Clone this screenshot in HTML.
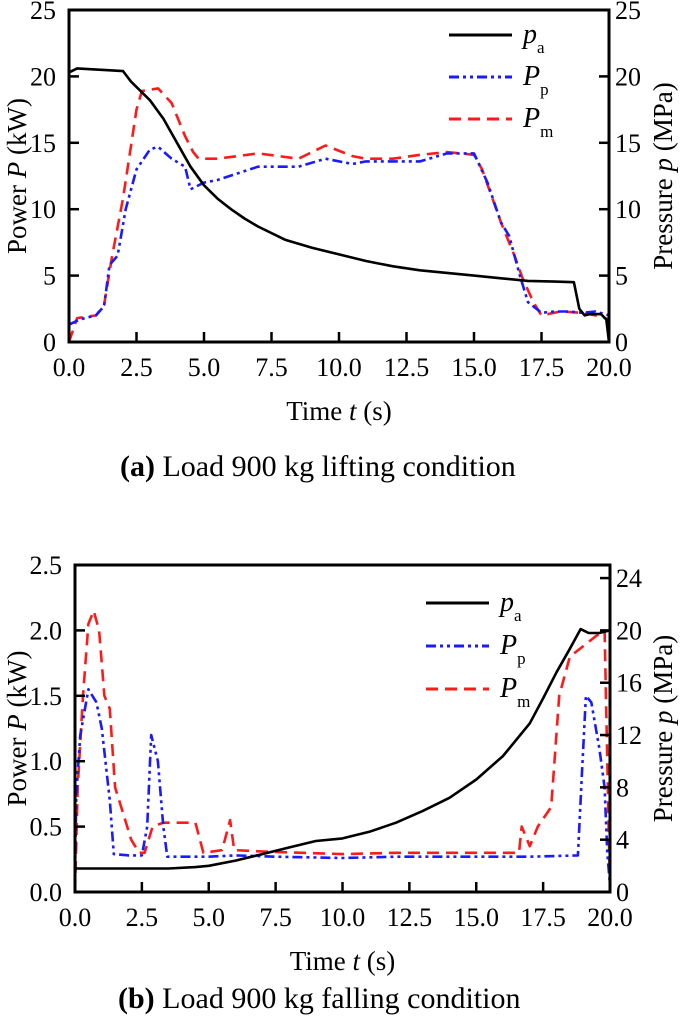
<!DOCTYPE html>
<html><head><meta charset="utf-8"><style>
html,body{margin:0;padding:0;background:#fff;}
svg{display:block;font-family:"Liberation Serif",serif;}
</style></head><body>
<svg id="fig" width="685" height="1029" viewBox="0 0 685 1029" xmlns="http://www.w3.org/2000/svg"></svg>
<script>
// ---- Chart (a) data ----
const aPaT=[0,0.3,2,2.3,2.7,3,3.5,4,4.5,5,5.5,6,6.5,7,8,9,10,11,12,13,14,15,16,17,18,18.7,18.9,19.1,19.3,19.7,19.9,20];
const aPaV=[20.3,20.6,20.4,19.6,18.8,18.2,16.8,15,13.2,11.8,10.8,10.0,9.3,8.7,7.7,7.1,6.6,6.1,5.7,5.4,5.2,5.0,4.8,4.6,4.55,4.5,2.5,2.0,2.1,2.1,1.7,0];
const aPpT=[0,0.4,1,1.3,1.5,1.8,2.1,2.5,3,3.3,3.8,4.3,4.5,5,5.5,7,8.5,9.5,10.5,11,12,13,14,15,15.5,16,16.3,16.7,17,17.5,18,18.5,19,19.5,20];
const aPpV=[1.3,1.7,2.0,2.7,5.8,6.5,10,13,14.5,14.7,13.8,13.2,11.5,12.0,12.2,13.2,13.2,13.8,13.4,13.6,13.6,13.6,14.2,14.2,12,9.0,8,5,3.0,2.2,2.3,2.3,2.2,2.3,2.0];
const aPmT=[0,0.3,1,1.3,1.6,2,2.5,2.7,3.3,3.8,4.3,4.6,4.8,5.5,7,8.5,9.5,10.5,11,12,13,14,15,15.3,16,16.5,16.8,17.2,17.5,18.2,19,19.5,20];
const aPmV=[0,1.8,2.0,2.8,6.5,10.8,17.5,18.9,19.1,18,15.5,14.3,13.8,13.8,14.2,13.8,14.8,14.0,13.8,13.8,14.1,14.3,14.1,13,9,6.5,4.8,3,2.0,2.3,2.2,2.0,1.7];
const aLeftTicks=[0,5,10,15,20,25];
const aRightTicks=[0,5,10,15,20,25];
// ---- Chart (b) data ----
const bPaT=[0,2,3.5,4.5,5,6,7,8,9,10,11,12,13,14,15,16,17,17.5,18,18.5,18.9,19.2,19.6,20];
const bPaV=[1.8,1.8,1.8,1.9,2.0,2.4,2.9,3.4,3.9,4.1,4.6,5.3,6.2,7.2,8.6,10.4,12.9,14.8,16.8,18.6,20.1,19.8,19.8,20];
const bPpT=[0,0.05,0.2,0.5,0.8,1.0,1.3,1.45,2,2.5,2.7,2.85,3.1,3.3,3.45,5,6,7.5,10,12,15,17,18.8,18.95,19.1,19.3,19.6,19.8,19.9,20];
const bPpV=[0.1,0.75,1.2,1.55,1.45,1.25,0.7,0.29,0.28,0.28,0.5,1.2,1.0,0.5,0.27,0.27,0.28,0.27,0.26,0.27,0.27,0.27,0.28,0.9,1.5,1.45,1.1,0.8,0.3,0.05];
const bPmT=[0,0.1,0.3,0.5,0.7,0.9,1.1,1.3,1.5,1.8,2.1,2.4,2.6,2.9,3.3,4.5,4.8,5.5,5.8,5.95,7,10,12,15,16.6,16.7,17.0,17.3,17.8,18.1,18.5,19,19.5,19.8,19.9,20];
const bPmV=[0,0.8,1.5,2.05,2.15,2.0,1.5,1.4,0.8,0.6,0.4,0.3,0.3,0.5,0.53,0.53,0.3,0.32,0.55,0.32,0.31,0.29,0.3,0.3,0.3,0.5,0.35,0.5,0.65,1.5,1.8,1.88,1.96,2.0,1.0,0];
const bLeftTicks=[0,0.5,1,1.5,2,2.5];
const bRightTicks=[0,4,8,12,16,20,24];
const xTicks=[0,2.5,5,7.5,10,12.5,15,17.5,20];

const NS="http://www.w3.org/2000/svg";
const svg=document.getElementById('fig');
function mk(tag,attrs,parent){const e=document.createElementNS(NS,tag);for(const k in attrs)e.setAttribute(k,attrs[k]);(parent||svg).appendChild(e);return e;}

function chart(o){
  const g=mk('g',{});
  
  
  const X=t=>o.x0+(t-0)/20*(o.x1-o.x0);
  const YL=v=>o.y1-(v/o.lmax)*(o.y1-o.y0);
  const YR=v=>o.y1-(v/o.rmax)*(o.y1-o.y0);
  function line(T,V,Y,color,dash,nm){
    const p=mk('polyline',{points:T.map((t,i)=>X(t).toFixed(1)+','+Y(V[i]).toFixed(1)).join(' '),fill:'none',stroke:color,'stroke-width':2.6,'stroke-dasharray':dash,'stroke-linejoin':'round'},g);
    
    
  }
  line(o.pmT,o.pmV,YL,'#ff1a1a','12,7',o.pre+'pm-line');
  line(o.ppT,o.ppV,YL,'#1a1aff','10,4,3,4,3,4',o.pre+'pp-line');
  line(o.paT,o.paV,YR,'#000','',o.pre+'pa-line');
  const fr=mk('rect',{x:o.x0,y:o.y0,width:o.x1-o.x0,height:o.y1-o.y0,fill:'none',stroke:'#000','stroke-width':3},g);
  
  
  xTicks.forEach(t=>{
    mk('line',{x1:X(t),x2:X(t),y1:o.y1,y2:o.y1-10,stroke:'#000','stroke-width':2.5},g);
    const tx=mk('text',{x:X(t),y:o.y1+34,'text-anchor':'middle','font-size':26},g);
    tx.textContent=t.toFixed(1);
    
    
  });
  o.lt.forEach(v=>{
    mk('line',{x1:o.x0,x2:o.x0+10,y1:YL(v),y2:YL(v),stroke:'#000','stroke-width':2.5},g);
    const tx=mk('text',{x:o.x0-13,y:YL(v)+9,'text-anchor':'end','font-size':26},g);
    tx.textContent=o.lfmt(v);
    
    
  });
  o.rt.forEach(v=>{
    mk('line',{x1:o.x1,x2:o.x1-10,y1:YR(v),y2:YR(v),stroke:'#000','stroke-width':2.5},g);
    const tx=mk('text',{x:o.x1+6,y:YR(v)+9,'text-anchor':'start','font-size':26},g);
    tx.textContent=String(v);
    
    
  });
  const cy=(o.y0+o.y1)/2;
  const lt=mk('text',{x:0,y:0,'text-anchor':'middle','font-size':27,transform:`translate(${o.ltx},${cy}) rotate(-90)`},g);
  lt.innerHTML='Power <tspan font-style="italic">P</tspan> (kW)';
  
  
  const rt=mk('text',{x:0,y:0,'text-anchor':'middle','font-size':27,transform:`translate(${o.rtx},${cy}) rotate(-90)`},g);
  rt.innerHTML='Pressure <tspan font-style="italic">p</tspan> (MPa)';
  
  
  const xt=mk('text',{x:(o.x0+o.x1)/2,y:o.y1+78,'text-anchor':'middle','font-size':27},g);
  xt.innerHTML='Time <tspan font-style="italic">t</tspan> (s)';
  
  
  const leg=[['p','a','#000',''],['P','p','#1a1aff','10,4,3,4,3,4'],['P','m','#ff1a1a','12,7']];
  leg.forEach((l,i)=>{
    const y=o.ly+i*o.lgap;
    const ll=mk('line',{x1:o.lx,x2:o.lx+63,y1:y,y2:y,stroke:l[2],'stroke-width':3,'stroke-dasharray':l[3]},g);
    
    
    const t=mk('text',{x:o.lx+74,y:y+8,'font-size':28},g);
    t.innerHTML=`<tspan font-style="italic">${l[0]}</tspan><tspan font-size="17" dy="10">${l[1]}</tspan>`;
    
    
  });
  const cap=mk('text',{x:o.capx,y:o.capy,'font-size':30},g);
  cap.innerHTML=`<tspan font-weight="bold">${o.capb}</tspan> ${o.cap}`;
  
  
}
chart({name:'chart-a-lifting',pre:'a-',x0:69,x1:609,y0:10,y1:342,lmax:25,rmax:25,
  paT:aPaT,paV:aPaV,ppT:aPpT,ppV:aPpV,pmT:aPmT,pmV:aPmV,lt:aLeftTicks,rt:aRightTicks,lfmt:v=>String(v),
  ltx:26,rtx:672,lx:449,ly:35,lgap:42,capx:120,capy:476,capb:'(a)',cap:'Load 900 kg lifting condition'});
chart({name:'chart-b-falling',pre:'b-',x0:75,x1:610,y0:565,y1:892,lmax:2.5,rmax:25,
  paT:bPaT,paV:bPaV,ppT:bPpT,ppV:bPpV,pmT:bPmT,pmV:bPmV,lt:bLeftTicks,rt:bRightTicks,lfmt:v=>v.toFixed(1),
  ltx:26,rtx:672,lx:426,ly:603,lgap:43,capx:118,capy:1008,capb:'(b)',cap:'Load 900 kg falling condition'});
</script>
</body></html>
